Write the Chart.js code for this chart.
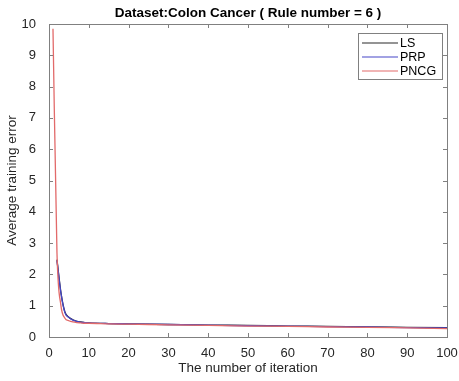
<!DOCTYPE html>
<html>
<head>
<meta charset="utf-8">
<script src="https://cdn.jsdelivr.net/npm/chart.js@4/dist/chart.umd.min.js"></script>
<style>
  html, body { margin: 0; padding: 0; background: #fff; }
  #wrap { width: 459px; height: 381px; }
</style>
</head>
<body>
<div id="wrap"><canvas id="err-chart" width="459" height="381"></canvas></div>
<script>
// iterations where the error was sampled
const iterations = [1, 2, 3, 4, 5, 6, 7, 8, 9, 10, 15, 20, 30, 40, 50, 60, 70, 80, 90, 100];
const lsError   = [null, 2.47, 1.42, 0.80, 0.63, 0.55, 0.50, 0.48, 0.46, 0.45, 0.43, 0.42, 0.40, 0.38, 0.37, 0.35, 0.34, 0.32, 0.31, 0.30];
const prpError  = [null, 2.45, 1.40, 0.78, 0.62, 0.54, 0.50, 0.47, 0.46, 0.45, 0.43, 0.42, 0.40, 0.38, 0.36, 0.35, 0.33, 0.32, 0.30, 0.29];
const pncgError = [9.85, 2.70, 1.00, 0.60, 0.52, 0.48, 0.46, 0.45, 0.44, 0.44, 0.42, 0.41, 0.39, 0.37, 0.35, 0.34, 0.32, 0.31, 0.29, 0.27];
const xTicks = [0, 10, 20, 30, 40, 50, 60, 70, 80, 90, 100];
const yTicks = [0, 1, 2, 3, 4, 5, 6, 7, 8, 9, 10];

const titleText = 'Dataset:Colon Cancer ( Rule number = 6 )';
const FONT = '"Liberation Sans", Arial, sans-serif';
const AXIS_COLOR = '#808080';
const TEXT_COLOR = '#262626';

function toPoints(values) {
  return iterations.map((it, i) => ({ x: it, y: values[i] }));
}

// matlab-like box with inward ticks, title and legend inside the axes
const matlabBox = {
  id: 'matlabBox',
  afterDraw(chart) {
    const ctx = chart.ctx;
    const area = chart.chartArea;
    const xs = chart.scales.x;
    const ys = chart.scales.y;
    const tick = 4;
    ctx.save();
    ctx.strokeStyle = AXIS_COLOR;
    ctx.lineWidth = 1;
    ctx.strokeRect(Math.round(area.left) + 0.5, Math.round(area.top) + 0.5,
      Math.round(area.right - area.left), Math.round(area.bottom - area.top));
    ctx.beginPath();
    xTicks.forEach(v => {
      const px = Math.round(xs.getPixelForValue(v)) + 0.5;
      ctx.moveTo(px, area.bottom); ctx.lineTo(px, area.bottom - tick);
      ctx.moveTo(px, area.top); ctx.lineTo(px, area.top + tick);
    });
    yTicks.forEach(v => {
      const py = Math.round(ys.getPixelForValue(v)) + 0.5;
      ctx.moveTo(area.left, py); ctx.lineTo(area.left + tick, py);
      ctx.moveTo(area.right, py); ctx.lineTo(area.right - tick, py);
    });
    ctx.stroke();

    // title
    ctx.fillStyle = '#000';
    ctx.font = 'bold 13.5px ' + FONT;
    ctx.textAlign = 'center';
    ctx.textBaseline = 'middle';
    ctx.fillText(titleText, (area.left + area.right) / 2, 13);

    // legend
    const lx = 358, ly = 33, lw = 84, lh = 46;
    ctx.fillStyle = '#fff';
    ctx.fillRect(lx, ly, lw, lh);
    ctx.strokeStyle = AXIS_COLOR;
    ctx.strokeRect(lx + 0.5, ly + 0.5, lw, lh);
    ctx.font = '12.5px ' + FONT;
    ctx.textAlign = 'left';
    ctx.lineWidth = 1.2;
    chart.data.datasets.forEach((ds, i) => {
      const y = ly + 10 + i * 14;
      ctx.strokeStyle = ds.borderColor;
      ctx.beginPath();
      ctx.moveTo(lx + 4, y); ctx.lineTo(lx + 40, y);
      ctx.stroke();
      ctx.fillStyle = '#000';
      ctx.fillText(ds.label, lx + 42, y + 1);
    });
    ctx.restore();
  }
};

new Chart(document.getElementById('err-chart'), {
  type: 'line',
  data: {
    datasets: [
      { label: 'LS', data: toPoints(lsError), borderColor: '#2a2a2a', order: 3 },
      { label: 'PRP', data: toPoints(prpError), borderColor: '#4646c8', order: 2 },
      { label: 'PNCG', data: toPoints(pncgError), borderColor: '#e26a6a', order: 1 }
    ]
  },
  options: {
    responsive: false,
    animation: false,
    devicePixelRatio: 1,
    elements: {
      line: { borderWidth: 1.3, tension: 0.3, cubicInterpolationMode: 'monotone' },
      point: { radius: 0 }
    },
    layout: { padding: { top: 24, right: 12, left: 0, bottom: 0 } },
    plugins: {
      legend: { display: false },
      title: { display: false },
      tooltip: { enabled: false }
    },
    scales: {
      x: {
        type: 'linear',
        min: 0, max: 100,
        grid: { display: false },
        border: { display: false },
        afterBuildTicks(scale) { scale.ticks = xTicks.map(v => ({ value: v })); },
        afterFit(scale) { scale.height = 44; },
        ticks: { color: TEXT_COLOR, font: { family: FONT, size: 13 }, padding: 1, maxRotation: 0 },
        title: {
          display: true, text: 'The number of iteration', color: TEXT_COLOR,
          font: { family: FONT, size: 13.5 }, padding: { top: 0, bottom: 5 }
        }
      },
      y: {
        type: 'linear',
        min: 0, max: 10,
        grid: { display: false },
        border: { display: false },
        afterBuildTicks(scale) { scale.ticks = yTicks.map(v => ({ value: v })); },
        afterFit(scale) { scale.width = 49; },
        ticks: { color: TEXT_COLOR, font: { family: FONT, size: 13 }, padding: 5 },
        title: {
          display: true, text: 'Average training error', color: TEXT_COLOR,
          font: { family: FONT, size: 13.5 }, padding: { top: 4, bottom: 0 }
        }
      }
    }
  },
  plugins: [matlabBox]
});
</script>
</body>
</html>
